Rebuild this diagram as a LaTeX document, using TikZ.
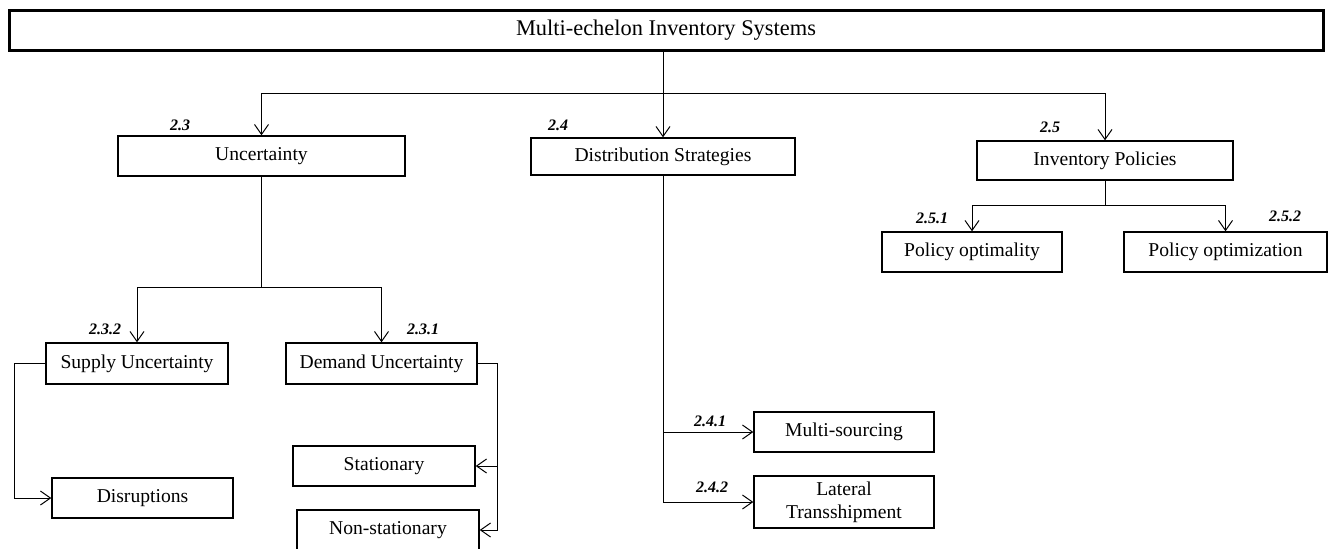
\documentclass[tikz,border=0pt]{standalone}
\usepackage{fontspec}
\setmainfont{Liberation Serif}
\usetikzlibrary{arrows.meta}

\tikzset{
	box/.style = {draw, line width=0.7pt, inner sep=0pt, align=center, font=\fontsize{9.8}{11.5}\selectfont},
	num/.style = {inner sep=0pt, font=\fontsize{8}{9}\selectfont\bfseries\itshape}
}

\begin{document}
\begin{tikzpicture}[x=0.5pt, y=-0.5pt, line width=0.5pt, >={Straight Barb[length=5pt,width=7pt]}]
			\useasboundingbox (0,0) rectangle (1336,548);
			%title box
			\node[box, line width=1.5pt, minimum width=657pt, minimum height=20pt, font=\fontsize{11.2}{13}\selectfont] (top) at (666,30) {Multi-echelon Inventory Systems};
			%second level
			\node[box, minimum width=143.5pt, minimum height=20pt] (unc) at (261.5,156) {Uncertainty};
			\node[box, minimum width=132pt, minimum height=18.5pt] (dist) at (663,156.5) {Distribution Strategies};
			\node[box, minimum width=128pt, minimum height=19.5pt] (inv) at (1105,160.5) {Inventory Policies};
			%third level
			\node[box, minimum width=90pt, minimum height=20pt] (popt) at (972,252) {Policy optimality};
			\node[box, minimum width=101.5pt, minimum height=20pt] (pmin) at (1225.5,252) {Policy optimization};
			\node[box, minimum width=91pt, minimum height=20.5pt] (sup) at (137,363.5) {Supply Uncertainty};
			\node[box, minimum width=95.5pt, minimum height=20.5pt] (dem) at (381.5,363.5) {Demand Uncertainty};
			\node[box, minimum width=90.5pt, minimum height=20pt] (dis) at (142.5,498) {Disruptions};
			\node[box, minimum width=91pt, minimum height=20pt] (stat) at (384,466) {Stationary};
			\node[box, minimum width=91pt, minimum height=20pt] (nstat) at (388,530) {Non-stationary};
			\node[box, minimum width=90pt, minimum height=20pt] (ms) at (844,432) {Multi-sourcing};
			\node[box, minimum width=90pt, minimum height=26pt] (lt) at (844,502) {Lateral\\Transshipment};
			%section numbers
			\node[num] (n23) at (180,125) {2.3};
			\node[num] (n24) at (558,125) {2.4};
			\node[num] (n25) at (1050,127) {2.5};
			\node[num] (n232) at (105,329) {2.3.2};
			\node[num] (n231) at (423,329) {2.3.1};
			\node[num] (n251) at (932,218) {2.5.1};
			\node[num] (n252) at (1285,216) {2.5.2};
			\node[num] (n241) at (710,421) {2.4.1};
			\node[num] (n242) at (712,487) {2.4.2};
			%connectors from the title
			\coordinate (j1) at (663,93);
			\draw (top.south -| j1) -- (j1);
			\draw[->] (j1) -| (unc.north);
			\draw[->] (j1) -- (dist.north);
			\draw[->] (j1) -| (inv.north);
			%uncertainty branch
			\coordinate (j2) at (261.5,287);
			\draw (unc.south) -- (j2);
			\draw[->] (j2) -| (sup.north);
			\draw[->] (j2) -| (dem.north);
			\coordinate (j4) at (14,363.5);
			\draw[->] (sup.west) -- (j4) |- (dis.west);
			\coordinate (j5) at (497,363.5);
			\draw[->] (dem.east) -- (j5) |- (stat.east);
			\draw[->] (j5) |- (nstat.east);
			%distribution branch
			\draw[->] (dist.south) |- (ms.west);
			\draw[->] (dist.south) |- (lt.west);
			%policies branch
			\coordinate (j3) at (1105,205);
			\draw (inv.south) -- (j3);
			\draw[->] (j3) -| (popt.north);
			\draw[->] (j3) -| (pmin.north);
		\end{tikzpicture}
\end{document}
